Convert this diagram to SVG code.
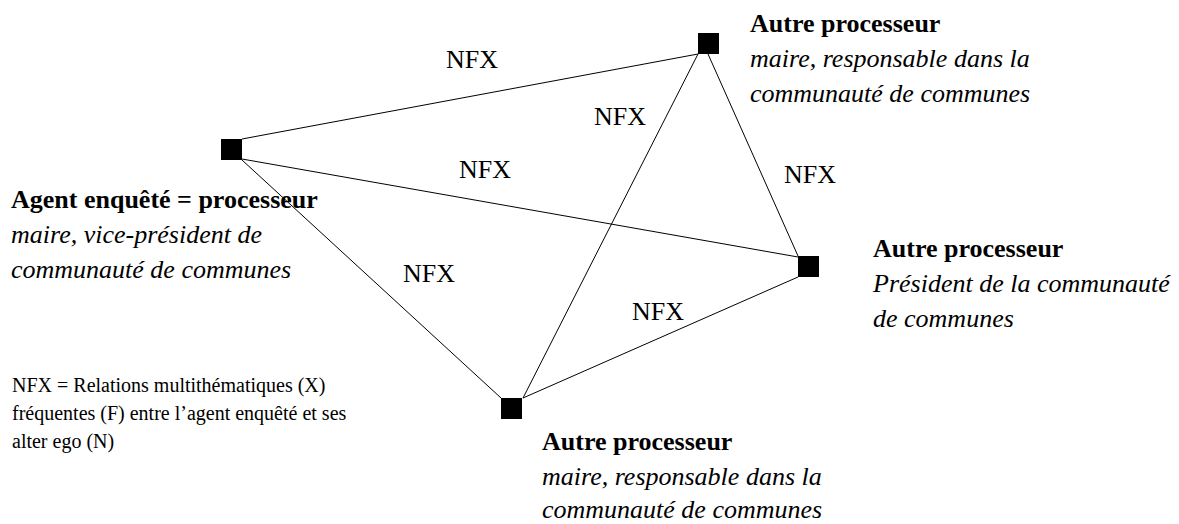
<svg xmlns="http://www.w3.org/2000/svg" width="1179" height="524" viewBox="0 0 1179 524">
<style>
text{font-family:"Liberation Serif","Times New Roman",serif;fill:#000}
.t{font-size:26px;font-weight:bold}
.d{font-size:26px;font-style:italic}
.e{font-size:26px}
.l{font-size:20px}
.n{fill:#000}
.c line{stroke:#000;stroke-width:1}
</style>
<rect width="1179" height="524" fill="#fff"/>
<g id="connectors" class="c">
<line x1="242" y1="139" x2="698" y2="54"/>
<line x1="242" y1="159" x2="798" y2="257"/>
<line x1="242" y1="160" x2="501" y2="398"/>
<line x1="698" y1="54" x2="523" y2="398"/>
<line x1="708" y1="54" x2="798" y2="256"/>
<line x1="523" y1="398" x2="798" y2="277"/>
</g>
<g id="edge-labels">
<text class="e" x="446" y="68">NFX</text>
<text class="e" x="594" y="125">NFX</text>
<text class="e" x="459" y="178">NFX</text>
<text class="e" x="784" y="183">NFX</text>
<text class="e" x="403" y="282">NFX</text>
<text class="e" x="632" y="320">NFX</text>
</g>
<g id="node-agent">
<rect class="n" x="221" y="139" width="21" height="21"/>
<text class="t" x="11" y="208">Agent enquêté = processeur</text>
<text class="d" x="11" y="243">maire, vice-président de</text>
<text class="d" x="11" y="278">communauté de communes</text>
</g>
<g id="node-top">
<rect class="n" x="698" y="33" width="21" height="21"/>
<text class="t" x="750" y="32">Autre processeur</text>
<text class="d" x="750" y="67">maire, responsable dans la</text>
<text class="d" x="750" y="102">communauté de communes</text>
</g>
<g id="node-right">
<rect class="n" x="798" y="256" width="21" height="21"/>
<text class="t" x="873" y="257">Autre processeur</text>
<text class="d" x="873" y="292">Président de la communauté</text>
<text class="d" x="873" y="327">de communes</text>
</g>
<g id="node-bottom">
<rect class="n" x="501" y="398" width="21" height="21"/>
<text class="t" x="542" y="450">Autre processeur</text>
<text class="d" x="542" y="485">maire, responsable dans la</text>
<text class="d" x="542" y="518">communauté de communes</text>
</g>
<g id="legend">
<text class="l" x="12" y="392">NFX = Relations multithématiques (X)</text>
<text class="l" x="12" y="420">fréquentes (F) entre l’agent enquêté et ses</text>
<text class="l" x="12" y="448">alter ego (N)</text>
</g>
</svg>
